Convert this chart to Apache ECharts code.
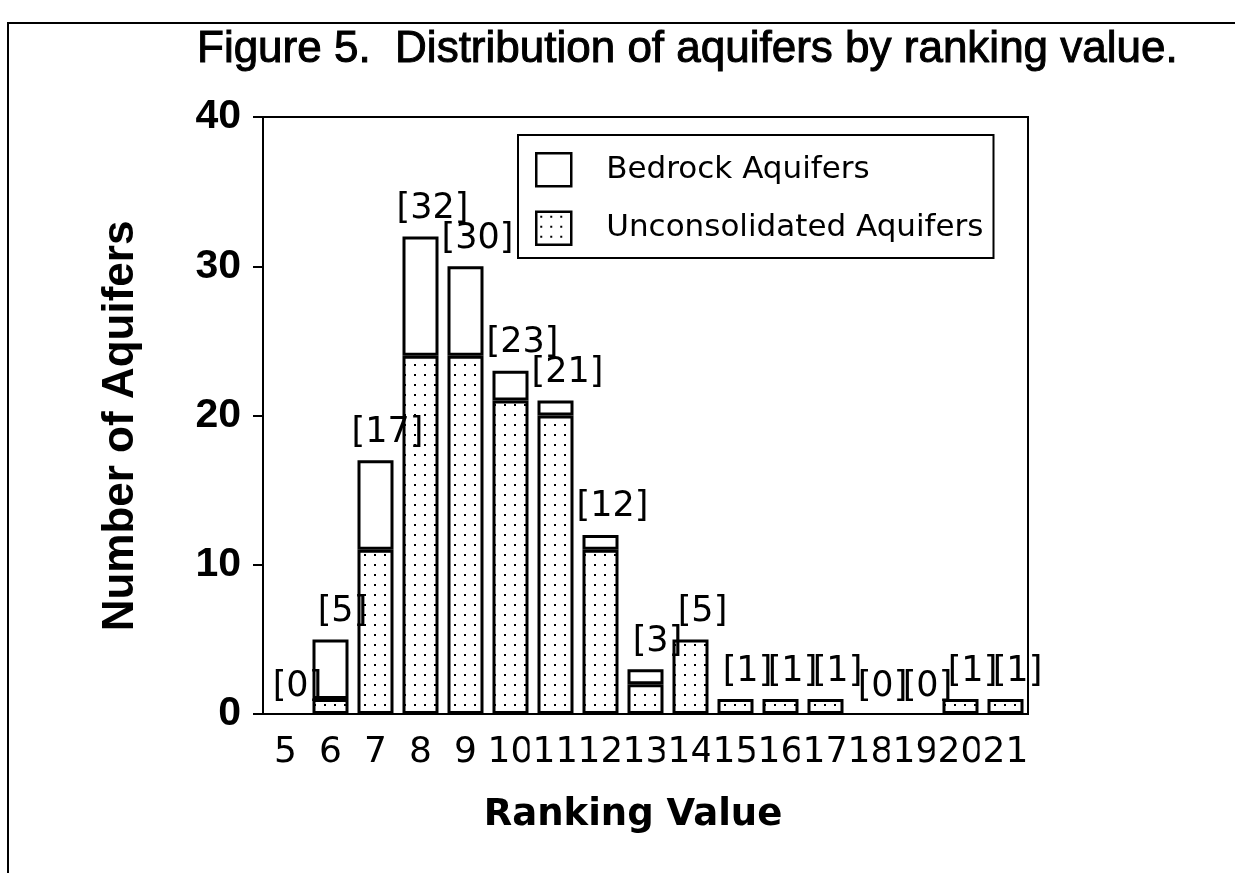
<!DOCTYPE html>
<html>
<head>
<meta charset="utf-8">
<title>Figure 5. Distribution of aquifers by ranking value.</title>
<script src="https://cdn.jsdelivr.net/npm/echarts@6/dist/echarts.min.js"></script>
<style>
  html, body { margin: 0; background: #fff; }
  #chart { width: 1235px; height: 873px; }
</style>
</head>
<body>
<div id="chart"></div>
<script>
// values
const rankings = ['5', '6', '7', '8', '9', '10', '11', '12', '13', '14', '15', '16', '17', '18', '19', '20', '21'];
const unconsolidated = [0, 1, 11, 24, 24, 21, 20, 11, 2, 5, 1, 1, 1, 0, 0, 1, 1];
const bedrock = [0, 4, 6, 8, 6, 2, 1, 1, 1, 0, 0, 0, 0, 0, 0, 0, 0];
const totals = [0, 5, 17, 32, 30, 23, 21, 12, 3, 5, 1, 1, 1, 0, 0, 1, 1];
const yMin = 0, yMax = 40, yStep = 10;

const LABEL_FONT = '"DejaVu Sans", sans-serif';
const BOLD_FONT = '"Liberation Sans", Arial, sans-serif';

// stippled fill, like the old mac dot pattern
function dotPattern() {
  const c = document.createElement('canvas');
  c.width = 10; c.height = 10;
  const ctx = c.getContext('2d');
  ctx.fillStyle = '#fff';
  ctx.fillRect(0, 0, 10, 10);
  ctx.fillStyle = '#000';
  ctx.fillRect(4, 4, 2, 2);
  return c;
}
const dots = { image: dotPattern(), repeat: 'repeat' };

// empty bars get no outline, otherwise they thicken the axis line
const barData = vals => vals.map(v => v === 0 ? { value: 0, itemStyle: { borderWidth: 0 } } : v);

const chart = echarts.init(document.getElementById('chart'));

chart.setOption({
  animation: false,
  backgroundColor: '#fff',
  grid: {
    left: 263, top: 117, right: 207, bottom: 159,
    show: true, borderColor: '#000', borderWidth: 2
  },
  legend: {
    left: 518, top: 135,
    orient: 'vertical',
    itemWidth: 35, itemHeight: 33, itemGap: 23,
    padding: [17, 10, 12, 17],
    borderColor: '#000', borderWidth: 2,
    icon: 'rect',
    textStyle: { fontFamily: LABEL_FONT, fontSize: 31, color: '#000', padding: [0, 0, 0, 30] },
    data: [
      { name: 'Bedrock Aquifers', itemStyle: { color: '#fff', borderColor: '#000', borderWidth: 2.5 } },
      { name: 'Unconsolidated Aquifers', itemStyle: { color: dots, borderColor: '#000', borderWidth: 2.5 } }
    ]
  },
  xAxis: {
    type: 'category',
    data: rankings,
    axisLine: { lineStyle: { color: '#000', width: 2 } },
    axisTick: { length: 7, lineStyle: { color: '#000', width: 2 } },
    axisLabel: {
      interval: 0, margin: 21,
      fontFamily: LABEL_FONT, fontSize: 36, color: '#000',
      backgroundColor: '#fff', padding: [0, 3]
    }
  },
  yAxis: {
    type: 'value',
    min: yMin, max: yMax, interval: yStep,
    splitLine: { show: false },
    axisLine: { show: true, lineStyle: { color: '#000', width: 2 } },
    axisTick: { show: true, length: 10, lineStyle: { color: '#000', width: 2 } },
    axisLabel: { margin: 22, fontFamily: BOLD_FONT, fontWeight: 'bold', fontSize: 41, color: '#000' }
  },
  series: [
    {
      name: 'Unconsolidated Aquifers',
      type: 'bar',
      stack: 'aq',
      barCategoryGap: '20%',
      data: barData(unconsolidated),
      itemStyle: { color: dots, borderColor: '#000', borderWidth: 3 }
    },
    {
      name: 'Bedrock Aquifers',
      type: 'bar',
      stack: 'aq',
      data: barData(bedrock),
      itemStyle: { color: '#fff', borderColor: '#000', borderWidth: 3 },
      label: {
        show: true,
        position: 'top',
        distance: 10,
        offset: [12, 0],
        fontFamily: LABEL_FONT, fontSize: 35, color: '#000',
        formatter: p => '[' + totals[p.dataIndex] + ']'
      }
    }
  ],
  graphic: [
    {
      type: 'rect',
      shape: { x: 8, y: 23, width: 1400, height: 1000 },
      style: { fill: 'none', stroke: '#000', lineWidth: 2 },
      silent: true
    },
    {
      type: 'text', x: 197, y: 50,
      style: {
        text: 'Figure 5.  Distribution of aquifers by ranking value.',
        fontFamily: BOLD_FONT, fontSize: 44, fill: '#000',
        stroke: '#000', lineWidth: 1,
        align: 'left', verticalAlign: 'middle'
      }
    },
    {
      type: 'text', x: 121, y: 426, rotation: Math.PI / 2,
      style: {
        text: 'Number of Aquifers',
        fontFamily: BOLD_FONT, fontWeight: 'bold', fontSize: 44, fill: '#000',
        align: 'center', verticalAlign: 'middle'
      }
    },
    {
      type: 'text', x: 633, y: 815,
      style: {
        text: 'Ranking Value',
        fontFamily: LABEL_FONT, fontWeight: 'bold', fontSize: 37, fill: '#000',
        align: 'center', verticalAlign: 'middle'
      }
    }
  ]
});
</script>
</body>
</html>
